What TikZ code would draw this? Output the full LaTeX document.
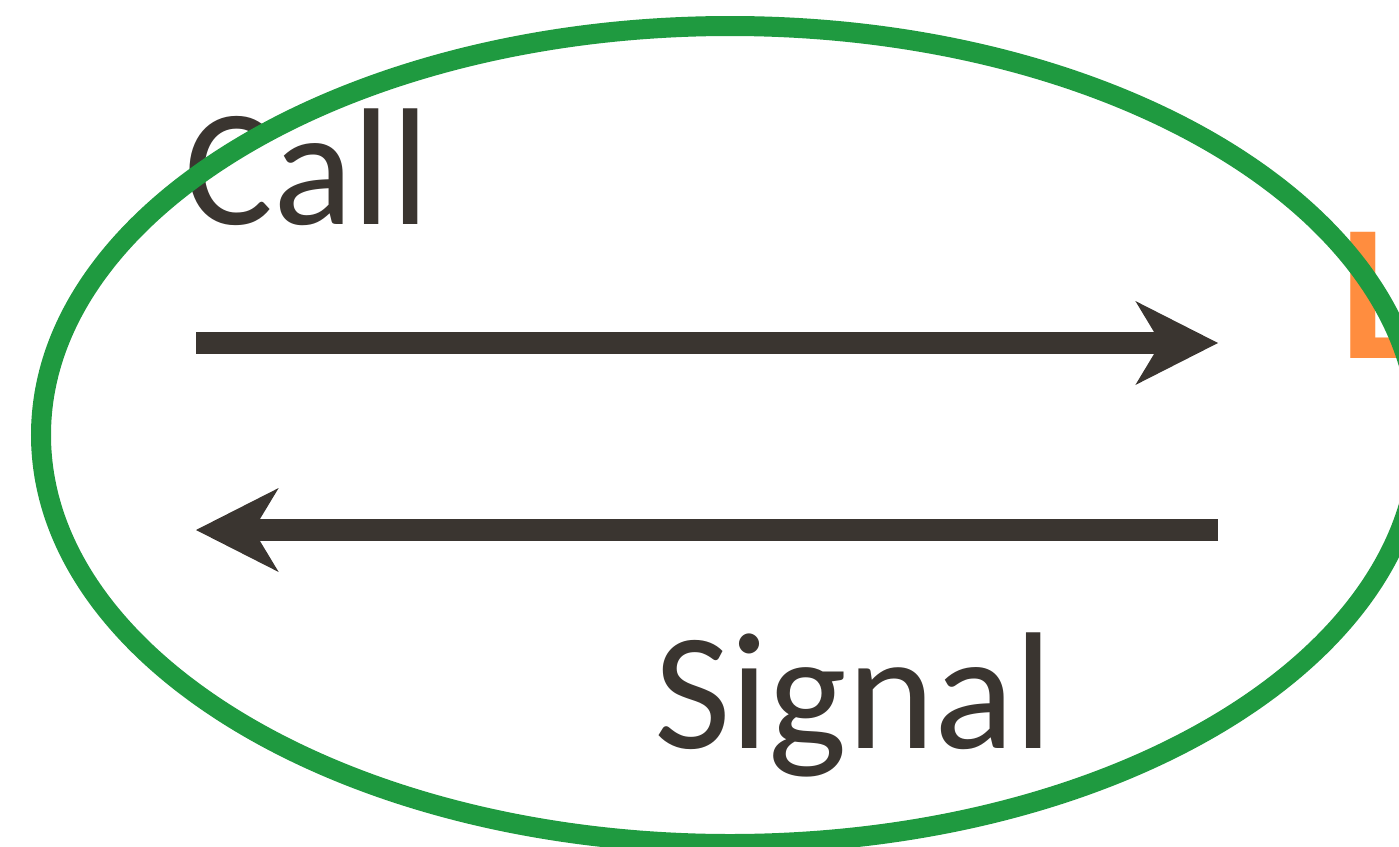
\documentclass[tikz,border=0pt]{standalone}
\usepackage{fontspec}
\setmainfont{Carlito}
\usetikzlibrary{arrows.meta}
\definecolor{ink}{HTML}{3A3530}
\definecolor{loopgreen}{HTML}{1F9A40}
\definecolor{tagorange}{HTML}{FF8D3F}
\begin{document}
\begin{tikzpicture}[x=0.75pt,y=0.75pt,yscale=-1,xscale=1,
  word/.style={inner sep=0pt, anchor=base west, text=ink, font=\fontsize{125}{127}\selectfont},
  flow/.style={draw=ink, line width=16.5pt, -{Stealth[length=62pt,width=63pt,inset=19pt,line width=0pt]}}]
\useasboundingbox (0,0) rectangle (1399,846);
\clip (0,0) rectangle (1399,846);

% labels
\node[word] (call) at (184, 224) {Call};
\node[word] (signal) at (654, 748) {Signal};
\node[inner sep=0pt, anchor=base west, text=tagorange, font=\fontsize{146}{148}\selectfont\bfseries] (tag) at (1340, 358) {L};

% arrows
\coordinate (callstart) at (196, 343);
\coordinate (callend) at (1218, 343);
\coordinate (sigstart) at (1218, 530);
\coordinate (sigend) at (196, 530);
\draw [flow] (callstart) -- (callend);
\draw [flow] (sigstart) -- (sigend);

% loop
\coordinate (loopcenter) at (730, 435);
\draw [loopgreen, line width=15pt] (loopcenter) ellipse [x radius=689, y radius=409];

\end{tikzpicture}
\end{document}
